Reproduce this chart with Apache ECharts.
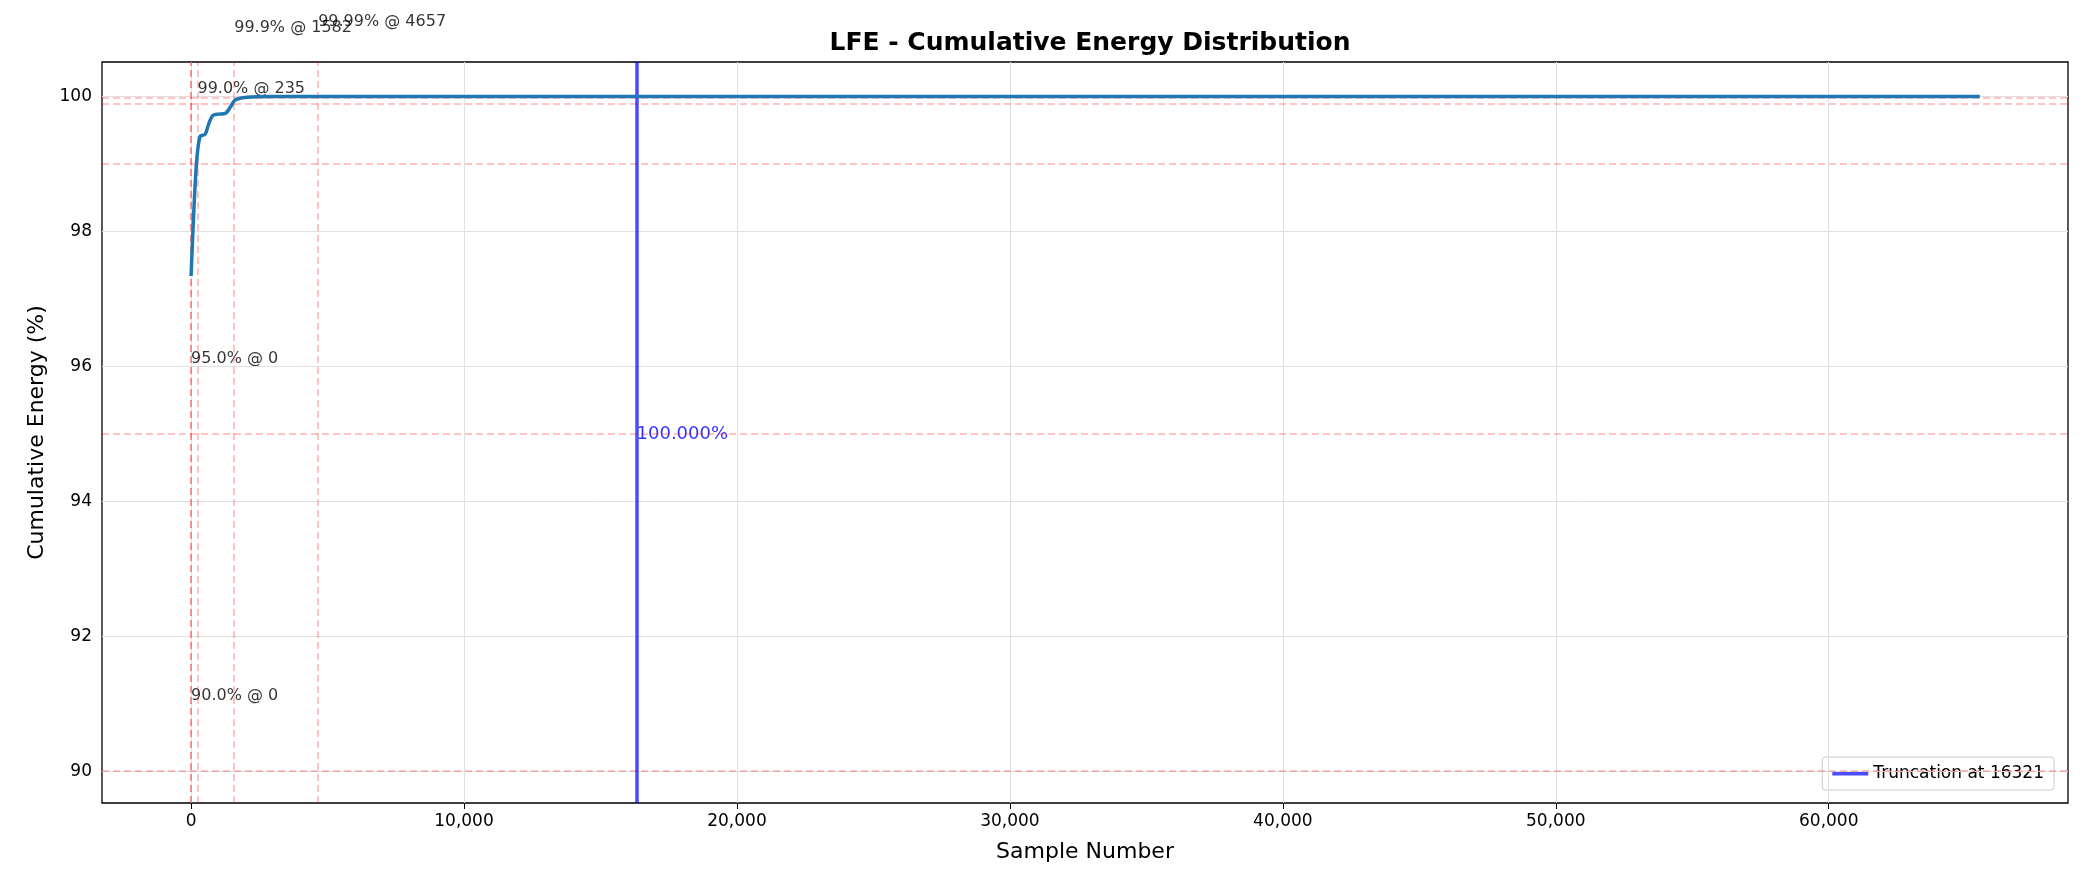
<!DOCTYPE html>
<html><head><meta charset="utf-8">
<script src="https://cdn.jsdelivr.net/npm/echarts@6/dist/echarts.min.js"></script>
<style>html,body{margin:0;padding:0;background:#fff}#container{width:2084px;height:886px}</style>
</head><body><div id="container"></div>
<script>
var myChart = echarts.init(document.getElementById("container"), null, { renderer: "canvas" });

// cumulative energy curve (sample, percent)
const curveX = [0, 100, 209, 331, 515, 650, 797, 1000, 1250, 1450, 1617, 2045, 3000, 8000, 20000, 40000, 65536];
const curveY = [97.34, 98.3, 99.06, 99.41, 99.44, 99.6, 99.72, 99.74, 99.75, 99.85, 99.95, 99.99, 100, 100, 100, 100, 100];
const thresholds = [90, 95, 99, 99.9, 99.99];
const thresholdSamples = [0, 0, 235, 1582, 4657];
const thresholdLabels = ["90.0% @ 0", "95.0% @ 0", "99.0% @ 235", "99.9% @ 1582", "99.99% @ 4657"];
const truncation = 16321;
const xTicks = [0, 10000, 20000, 30000, 40000, 50000, 60000];
const yTicks = [90, 92, 94, 96, 98, 100];

const red = "rgba(255,0,0,0.3)";
const font = "DejaVu Sans";

option = {
  animation: false,
  textStyle: { fontFamily: font },
  title: {
    text: "LFE - Cumulative Energy Distribution",
    left: 1085, top: 26, textAlign: "center",
    textStyle: { fontSize: 25, fontWeight: "bold", color: "#000", fontFamily: font },
  },
  grid: { left: 102, right: 16, top: 62, bottom: 83, show: true, borderColor: "#000", borderWidth: 1.3 },
  legend: {
    right: 30, bottom: 96, orient: "vertical",
    backgroundColor: "#fff", borderColor: "#ccc", borderWidth: 1, borderRadius: 3, padding: [8, 10],
    itemWidth: 36, itemHeight: 4,
    textStyle: { fontSize: 17, color: "#000" },
    data: [{ name: "Truncation at 16321", icon: "rect" }],
  },
  xAxis: {
    type: "value", min: -3263, max: 68766,
    name: "Sample Number", nameLocation: "middle", nameGap: 38,
    nameTextStyle: { fontSize: 22, color: "#000" },
    axisLine: { show: false },
    axisTick: { show: true, customValues: xTicks, length: 6, lineStyle: { color: "#000" } },
    axisLabel: { customValues: xTicks, fontSize: 17, color: "#000", margin: 10 },
    splitLine: { show: false },
  },
  yAxis: {
    type: "value", min: 89.527, max: 100.513,
    name: "Cumulative Energy (%)", nameLocation: "middle", nameGap: 54,
    nameTextStyle: { fontSize: 22, color: "#000" },
    axisLine: { show: false },
    axisTick: { show: true, customValues: yTicks, length: 6, lineStyle: { color: "#000" } },
    axisLabel: { customValues: yTicks, fontSize: 17, color: "#000", margin: 10 },
    splitLine: { show: false },
  },
  series: [
    {
      type: "line", name: "grid", silent: true, data: [],
      markLine: {
        symbol: "none", silent: true, label: { show: false },
        lineStyle: { color: "#e0e0e0", type: "solid", width: 1 },
        data: xTicks.map(function (v) { return { xAxis: v }; })
          .concat(yTicks.map(function (v) { return { yAxis: v }; })),
      },
    },
    {
      type: "line", name: "thresholds", silent: true, data: [],
      markLine: {
        symbol: "none", silent: true, label: { show: false },
        lineStyle: { color: red, type: [7, 4], width: 1.5 },
        data: thresholds.map(function (v) { return { yAxis: v }; })
          .concat(thresholdSamples.map(function (v) { return { xAxis: v }; })),
      },
    },
    {
      type: "line", name: "curve", showSymbol: false, smooth: 0.3,
      lineStyle: { color: "#1f77b4", width: 3.5 },
      data: curveX.map(function (x, i) { return [x, curveY[i]]; }),
      z: 5,
    },
    {
      type: "scatter", name: "labels", symbolSize: 0, clip: false, silent: true,
      data: thresholds.map(function (t, i) { return [thresholdSamples[i], t + 1, thresholdLabels[i]]; }),
      label: {
        show: true, position: "inside", align: "left", verticalAlign: "bottom", offset: [0, 0],
        fontSize: 16, color: "#000",
        formatter: function (p) { return p.value[2]; },
      },
    },
    {
      type: "line", name: "Truncation at 16321", data: [],
      itemStyle: { color: "rgba(0,0,255,0.7)" },
      lineStyle: { color: "rgba(0,0,255,0.7)", width: 3.5 },
      markLine: {
        symbol: "none", silent: true,
        lineStyle: { color: "rgba(0,0,255,0.7)", type: "solid", width: 3.5 },
        label: { show: false },
        data: [{ xAxis: truncation }],
      },
      z: 6,
    },
    {
      type: "scatter", name: "trunclabel", symbolSize: 0, silent: true, clip: false,
      data: [[truncation, 95, "100.000%"]],
      label: {
        show: true, position: "inside", align: "left", verticalAlign: "middle",
        fontSize: 18, color: "#0000ff",
        formatter: function (p) { return p.value[2]; },
      },
    },
  ],
};
myChart.setOption(option);
window.addEventListener("resize", myChart.resize);
</script></body></html>
